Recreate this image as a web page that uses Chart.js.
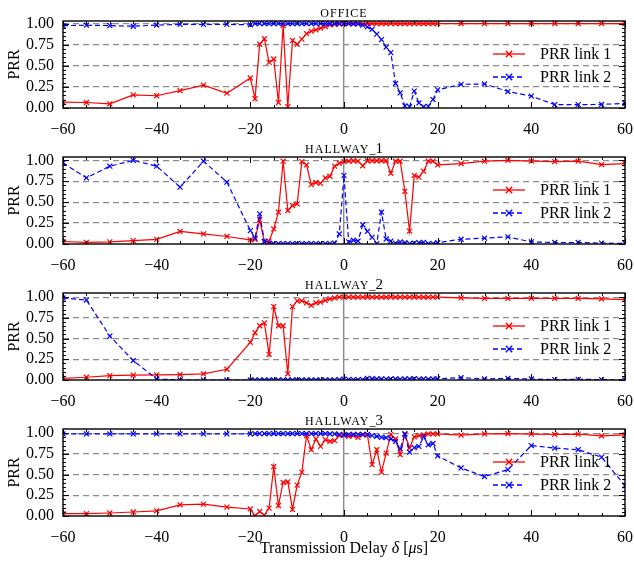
<!DOCTYPE html>
<html>
<head>
<meta charset="utf-8">
<script src="https://cdn.jsdelivr.net/npm/chart.js@4.4.1/dist/chart.umd.min.js"></script>
<style>
  body { margin: 0; background: #fff; }
  #wrap { position: relative; width: 634px; height: 562px; }
  canvas { position: absolute; left: 0; }
</style>
</head>
<body>
<div id="wrap">
  <canvas id="c0" width="634" height="136" style="top:0px"></canvas>
  <canvas id="c1" width="634" height="136" style="top:136px"></canvas>
  <canvas id="c2" width="634" height="136" style="top:272px"></canvas>
  <canvas id="c3" width="634" height="154" style="top:408px"></canvas>
</div>
<script>
// transmission delay (us)
const delays = [-60, -55, -50, -45, -40, -35, -30, -25,
  -20, -19, -18, -17, -16, -15, -14, -13, -12, -11, -10, -9, -8, -7, -6, -5, -4, -3, -2, -1,
  0, 1, 2, 3, 4, 5, 6, 7, 8, 9, 10, 11, 12, 13, 14, 15, 16, 17, 18, 19, 20,
  25, 30, 35, 40, 45, 50, 55, 60];

// OFFICE
const officeLink1 = [0.07, 0.065, 0.05, 0.155, 0.145, 0.205, 0.27, 0.175,
  0.355, 0.11, 0.755, 0.82, 0.54, 0.58, 0.065, 0.975, 0.015, 0.80, 0.755, 0.815, 0.88, 0.91, 0.925, 0.945, 0.965, 0.985, 0.99, 0.995,
  1.0, 1.0, 1.0, 1.0, 1.0, 1.0, 1.0, 1.0, 1.0, 1.0, 1.0, 1.0, 1.0, 1.0, 1.0, 1.0, 1.0, 1.0, 1.0, 1.0, 1.0,
  1.0, 1.0, 1.0, 1.0, 1.0, 1.0, 1.0, 1.0];
const officeLink2 = [0.975, 0.98, 0.975, 0.968, 0.982, 0.99, 0.99, 0.99,
  0.985, 1.0, 1.0, 1.0, 1.0, 1.0, 1.0, 1.0, 1.0, 1.0, 1.0, 1.0, 1.0, 1.0, 1.0, 1.0, 1.0, 1.0, 1.0, 1.0,
  1.0, 1.0, 0.995, 0.995, 0.98, 0.96, 0.93, 0.875, 0.81, 0.72, 0.655, 0.29, 0.18, 0.025, 0.015, 0.2, 0.06, 0.015, 0.02, 0.1, 0.215,
  0.28, 0.285, 0.195, 0.14, 0.04, 0.04, 0.042, 0.055];

// HALLWAY_1
const hallway1Link1 = [0.03, 0.02, 0.025, 0.04, 0.055, 0.15, 0.12, 0.09,
  0.05, 0.056, 0.29, 0.025, 0.035, 0.18, 0.38, 0.99, 0.40, 0.46, 0.48, 0.985, 0.945, 0.71, 0.735, 0.725, 0.79, 0.81, 0.93, 0.965,
  0.985, 0.99, 0.995, 0.99, 0.935, 0.995, 0.995, 0.995, 0.995, 0.995, 0.845, 0.99, 0.99, 0.63, 0.155, 0.82, 0.80, 0.87, 0.99, 0.99, 0.945,
  0.96, 0.99, 1.0, 0.99, 0.985, 0.99, 0.95, 0.96];
const hallway1Link2 = [0.97, 0.79, 0.93, 1.0, 0.93, 0.68, 0.99, 0.74,
  0.16, 0.07, 0.36, 0.03, 0.01, 0.005, 0.005, 0.005, 0.005, 0.005, 0.005, 0.005, 0.005, 0.005, 0.005, 0.005, 0.005, 0.005, 0.01, 0.12,
  0.82, 0.025, 0.045, 0.035, 0.23, 0.15, 0.08, 0.005, 0.38, 0.06, 0.035, 0.01, 0.025, 0.015, 0.005, 0.01, 0.015, 0.02, 0.005, 0.005, 0.015,
  0.057, 0.07, 0.085, 0.025, 0.018, 0.018, 0.01, 0.008];

// HALLWAY_2
const hallway2Link1 = [0.02, 0.033, 0.053, 0.06, 0.062, 0.066, 0.073, 0.13,
  0.455, 0.57, 0.655, 0.69, 0.31, 0.885, 0.655, 0.655, 0.075, 0.885, 0.955, 0.955, 0.93, 0.9, 0.93, 0.94, 0.96, 0.98, 0.99, 1.0,
  1.0, 1.0, 1.0, 1.0, 1.0, 1.0, 1.0, 1.0, 1.0, 1.0, 1.0, 1.0, 1.0, 1.0, 1.0, 1.0, 1.0, 1.0, 1.0, 1.0, 1.0,
  0.99, 0.985, 0.985, 0.985, 0.985, 0.985, 0.98, 0.97];
const hallway2Link2 = [0.99, 0.965, 0.53, 0.235, 0.012, 0.0, 0.0, 0.0,
  0.0, 0.0, 0.0, 0.0, 0.0, 0.0, 0.0, 0.0, 0.0, 0.0, 0.0, 0.0, 0.0, 0.0, 0.0, 0.0, 0.0, 0.0, 0.0, 0.005,
  0.01, 0.005, 0.005, 0.005, 0.005, 0.02, 0.015, 0.012, 0.012, 0.01, 0.012, 0.012, 0.01, 0.012, 0.012, 0.015, 0.01, 0.012, 0.01, 0.012, 0.015,
  0.028, 0.012, 0.02, 0.012, 0.005, 0.008, 0.005, 0.0];

// HALLWAY_3
const hallway3Link1 = [0.028, 0.028, 0.036, 0.048, 0.063, 0.135, 0.143, 0.107,
  0.085, 0.003, 0.055, 0.008, 0.095, 0.595, 0.127, 0.405, 0.413, 0.08, 0.373, 0.53, 0.97, 0.80, 0.93, 0.84, 0.92, 0.9, 0.91, 0.97,
  0.98, 0.96, 0.97, 0.95, 0.98, 0.98, 0.62, 0.80, 0.53, 0.76, 0.985, 0.93, 0.74, 0.99, 0.82, 0.955, 0.97, 0.98, 0.99, 0.99, 0.99,
  0.976, 0.99, 0.995, 0.988, 0.984, 0.988, 0.968, 0.98];
const hallway3Link2 = [0.99, 0.99, 0.99, 0.99, 0.99, 0.99, 0.99, 0.99,
  0.99, 0.995, 0.995, 0.995, 0.995, 0.995, 0.995, 0.995, 0.995, 0.995, 0.995, 0.995, 0.995, 0.995, 0.995, 0.995, 0.995, 0.99, 0.99, 0.985,
  0.975, 0.985, 0.985, 0.985, 0.985, 0.985, 0.97, 0.96, 0.95, 0.945, 0.93, 0.9, 0.81, 0.99, 0.77, 0.825, 0.84, 0.955, 0.86, 0.875, 0.725,
  0.58, 0.476, 0.56, 0.85, 0.82, 0.80, 0.71, 0.365];

const panelTitles = ['OFFICE', 'HALLWAY_1', 'HALLWAY_2', 'HALLWAY_3'];
const seriesNames = ['PRR link 1', 'PRR link 2'];
const yTickValues = [0, 0.25, 0.5, 0.75, 1.0];

const SERIF = '"Liberation Serif", "DejaVu Serif", serif';
const RED = '#ff0000';
const BLUE = '#0000ff';

function toPoints(ys) {
  return delays.map((x, i) => ({ x: x, y: ys[i] }));
}

function cross(ctx, x, y, r) {
  ctx.beginPath();
  ctx.moveTo(x - r, y - r); ctx.lineTo(x + r, y + r);
  ctx.moveTo(x - r, y + r); ctx.lineTo(x + r, y - r);
  ctx.stroke();
}

// frame, inward ticks, panel title, legend, x label
const panelDeco = {
  id: 'panelDeco',
  afterDraw(chart, args, opts) {
    const ctx = chart.ctx;
    const a = chart.chartArea;
    const xs = chart.scales.x, ys = chart.scales.y;
    ctx.save();
    ctx.strokeStyle = '#000';
    ctx.lineWidth = 1;
    ctx.beginPath();
    for (let v = -60; v <= 60; v += 5) {
      const px = Math.round(xs.getPixelForValue(v)) + 0.5;
      const len = v % 20 === 0 ? 6 : 3;
      ctx.moveTo(px, a.top); ctx.lineTo(px, a.top + len);
      ctx.moveTo(px, a.bottom); ctx.lineTo(px, a.bottom - len);
    }
    for (let k = 0; k <= 20; k++) {
      const py = Math.round(ys.getPixelForValue(k * 0.05)) + 0.5;
      const len = k % 5 === 0 ? 6 : 3;
      ctx.moveTo(a.left, py); ctx.lineTo(a.left + len, py);
      ctx.moveTo(a.right, py); ctx.lineTo(a.right - len, py);
    }
    ctx.stroke();

    ctx.lineWidth = 1.4;
    ctx.strokeRect(a.left, a.top, a.right - a.left, a.bottom - a.top);

    // title (small caps look)
    const m = opts.title.match(/^([A-Z]+)(_?)(\d*)$/);
    const segs = [[m[1], '12px ' + SERIF, '1px']];
    if (m[2]) segs.push(['_', '12px ' + SERIF, '0px']);
    if (m[3]) segs.push([m[3], '15px ' + SERIF, '0px']);
    let total = 0;
    segs.forEach(s => { ctx.font = s[1]; ctx.letterSpacing = s[2]; s.push(ctx.measureText(s[0]).width); total += s[3]; });
    let tx = (a.left + a.right) / 2 - total / 2;
    ctx.fillStyle = '#000';
    ctx.textBaseline = 'alphabetic';
    ctx.textAlign = 'left';
    segs.forEach(s => { ctx.font = s[1]; ctx.letterSpacing = s[2]; ctx.fillText(s[0], tx, a.top - 4); tx += s[3]; });
    ctx.letterSpacing = '0px';

    // legend
    const rows = [[RED, [], seriesNames[0]], [BLUE, [5, 3], seriesNames[1]]];
    rows.forEach((r, i) => {
      const ly = a.top + 33 + i * 23;
      ctx.strokeStyle = r[0];
      ctx.lineWidth = 1.3;
      ctx.setLineDash(r[1]);
      ctx.beginPath();
      ctx.moveTo(a.right - 132, ly); ctx.lineTo(a.right - 100, ly);
      ctx.stroke();
      ctx.setLineDash([]);
      cross(ctx, a.right - 116, ly, 3.2);
      ctx.font = '16px ' + SERIF;
      ctx.fillStyle = '#000';
      ctx.textBaseline = 'middle';
      ctx.fillText(r[2], a.right - 85, ly + 1);
    });

    if (opts.xlabel) {
      const parts = [['Transmission Delay ', ''], ['\u03b4', 'italic '], [' [', ''], ['\u03bc', 'italic '], ['s]', '']];
      let w = 0;
      parts.forEach(p => { ctx.font = p[1] + '16px ' + SERIF; p.push(ctx.measureText(p[0]).width); w += p[2]; });
      let lx = (a.left + a.right) / 2 - w / 2;
      ctx.textBaseline = 'middle';
      parts.forEach(p => { ctx.font = p[1] + '16px ' + SERIF; ctx.fillText(p[0], lx, a.bottom + 33); lx += p[2]; });
    }
    ctx.restore();
  }
};

function makePanel(id, title, link1, link2, yMax, xAxisHeight, xlabel) {
  const font = { family: SERIF, size: 16 };
  new Chart(document.getElementById(id), {
    type: 'line',
    data: {
      datasets: [
        {
          label: seriesNames[0], data: toPoints(link1), order: 2,
          borderColor: RED, backgroundColor: RED, borderWidth: 1.2,
          pointStyle: 'crossRot', pointRadius: 3.5, pointBorderWidth: 1.2,
          pointBorderColor: RED, tension: 0
        },
        {
          label: seriesNames[1], data: toPoints(link2), order: 1,
          borderColor: BLUE, backgroundColor: BLUE, borderWidth: 1.2, borderDash: [5, 3],
          pointStyle: 'crossRot', pointRadius: 3.5, pointBorderWidth: 1.2,
          pointBorderColor: BLUE, tension: 0
        }
      ]
    },
    options: {
      responsive: false,
      animation: false,
      devicePixelRatio: 1,
      layout: { padding: { top: 21, right: 9, left: 0, bottom: 0 } },
      plugins: {
        legend: { display: false },
        tooltip: { enabled: false },
        panelDeco: { title: title, xlabel: xlabel }
      },
      scales: {
        x: {
          type: 'linear', min: -60, max: 60,
          ticks: {
            stepSize: 20, font: font, color: '#000', padding: 12, maxRotation: 0, autoSkip: false,
            callback: v => String(v).replace('-', '\u2212')
          },
          grid: {
            drawTicks: false, lineWidth: 1.4,
            color: c => (c.tick && c.tick.value === 0) ? '#8a8a8a' : 'rgba(0,0,0,0)'
          },
          border: { display: false },
          afterFit: s => { s.height = xAxisHeight; s.paddingLeft = 0; s.paddingRight = 0; }
        },
        y: {
          min: 0, max: yMax,
          afterBuildTicks: s => { s.ticks = yTickValues.map(v => ({ value: v })); },
          ticks: { font: font, color: '#000', padding: 9, autoSkip: false, callback: v => Number(v).toFixed(2) },
          grid: {
            drawTicks: false, lineWidth: 1.2,
            color: c => (c.tick && c.tick.value === 0) ? 'rgba(0,0,0,0)' : '#8c8c8c'
          },
          border: { display: false, dash: [6, 4] },
          title: { display: true, text: 'PRR', font: font, color: '#000', padding: { top: 5, bottom: 0 } },
          afterFit: s => { s.width = 63; s.paddingTop = 0; s.paddingBottom = 0; }
        }
      }
    },
    plugins: [panelDeco]
  });
}

makePanel('c0', panelTitles[0], officeLink1, officeLink2, 1.03, 136 - 21 - 87, false);
makePanel('c1', panelTitles[1], hallway1Link1, hallway1Link2, 1.04, 136 - 21 - 87, false);
makePanel('c2', panelTitles[2], hallway2Link1, hallway2Link2, 1.05, 136 - 21 - 87, false);
makePanel('c3', panelTitles[3], hallway3Link1, hallway3Link2, 1.05, 154 - 21 - 87, true);
</script>
</body>
</html>
